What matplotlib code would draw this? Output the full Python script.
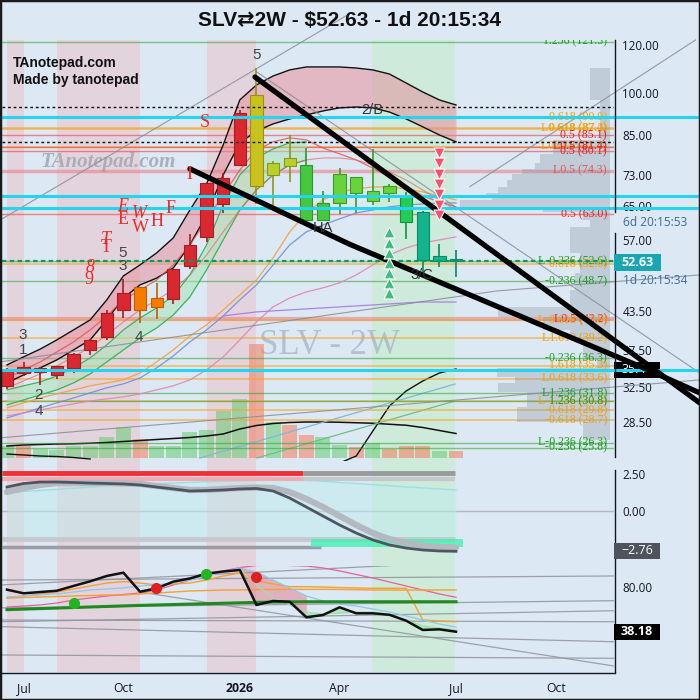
import numpy as np
import matplotlib
matplotlib.use("Agg")
import matplotlib.pyplot as plt
from matplotlib.patches import Rectangle
from matplotlib.lines import Line2D
from matplotlib.ticker import NullLocator, NullFormatter

plt.rcParams['font.family'] = ['Open Sans', 'DejaVu Sans']

# ---------------- data: 2-week candles (index 0 = first bar shown) ----------------
bars = np.arange(28)
opens  = [32.6, 34.35, 35.0, 34.05, 34.93, 37.45, 39.3, 43.73, 47.56, 44.07, 45.6, 51.7, 57.6, 65.4,
          75.9, 99.2, 73.0, 75.7, 76.0, 61.5, 65.6, 72.4, 66.1, 68.1, 67.4, 63.5, 52.6, 53.0]
closes = [34.7, 35.07, 34.4, 35.24, 36.97, 38.9, 43.2, 46.66, 43.73, 45.69, 51.0, 55.9, 70.8, 72.2,
          92.7, 70.0, 76.4, 78.1, 61.5, 65.6, 73.3, 68.1, 68.8, 70.0, 61.0, 52.9, 53.7, 52.63]
highs  = [35.0, 35.74, 35.1, 35.3, 37.0, 39.0, 43.73, 49.04, 47.6, 48.47, 51.1, 58.3, 71.0, 73.6,
          93.5, 109.8, 77.0, 85.1, 80.9, 68.8, 75.0, 72.5, 80.6, 70.5, 68.6, 63.6, 56.1, 54.9]
lows   = [32.3, 33.96, 32.8, 33.5, 34.35, 36.75, 38.9, 42.27, 41.5, 42.16, 44.6, 51.0, 56.6, 63.3,
          75.5, 65.4, 65.1, 71.2, 61.0, 61.2, 63.0, 63.2, 65.1, 65.8, 57.2, 50.5, 51.5, 49.5]
candle_kind = ['r', 'r', 'r', 'r', 'r', 'r', 'r', 'r', 'o', 'o', 'r', 'r', 'r', 'r',
               'r', 'y', 'yg', 'yg', 'g', 'g', 'lg', 'lg', 'lg', 'lg', 'bg', 't', 't', 't']

volume = [48, 50, 38, 32, 47, 47, 83, 123, 78, 50, 50, 103, 111, 187,
          235, 456, 143, 131, 91, 83, 54, 43, 59, 36, 47, 47, 30, 30]
vol_kind = ['g', 's', 'g', 'g', 'g', 'g', 'g', 'g', 's', 'g', 'g', 'g', 'g', 'g',
            'g', 's', 'g', 's', 's', 'g', 'g', 's', 'g', 's', 's', 's', 'g', 's']
vol_ma = [48, 52, 54, 56, 57, 59, 62, 66, 70, 74, 78, 82, 88, 96,
          116, 130, 138, 142, 144, 144, 143, 141, 139, 135, 131, 122, 110, 98]
vol_osc = [np.nan] * 20 + [-20, 8, 108, 208, 268, 308, 340, 356]
vol_osc2 = [16, 12, 8, 6, 2, -4] + [np.nan] * 22
vol_ray_a = ([11.6, 26.94], [0, 296])
vol_ray_b = ([15.03, 26.94], [0, 228])

# envelope / averages (price)
env_upper = [35.39, 36.5, 37.6, 38.94, 40.45, 42.02, 45.36, 49.7, 51.84, 54.27, 57.47, 63.94, 70.6, 81.94,
             97.29, 103.0, 106.6, 109.1, 110.35, 110.35, 110.35, 109.9, 109.1, 107.4, 103.8, 100.3, 97.29, 95.45]
env_lower = [33.05, 34.07, 35.0, 36.08, 37.48, 38.94, 42.02, 45.7, 48.03, 49.3, 51.25, 55.95, 62.73, 73.07,
             82.6, 86.4, 88.8, 90.5, 91.88, 93.3, 94.4, 94.7, 94.4, 92.9, 90.5, 87.8, 85.13, 82.9]
ribbon_hi = [32.18, 32.68, 33.17, 33.94, 35.0, 36.35, 38.2, 40.45, 42.34, 44.0, 46.05, 49.9, 55.95, 65.17,
             73.07, 77.97, 80.7, 82.6, 82.9]
ribbon_lo = [30.39, 30.97, 31.57, 32.18, 33.05, 34.2, 35.8, 37.48, 39.24, 40.76, 42.83, 45.9, 50.86, 57.03,
             63.94, 69.01, 73.07, 75.92, 77.38]
ma_orange = [30.04, 30.62, 31.2, 31.69, 32.18, 32.68, 33.05, 33.43, 34.33, 35.8, 37.48, 39.54, 41.23, 43.66,
             46.23, 48.95, 53.24, 58.8, 63.2, 66.43, 68.5, 69.3, 69.8, 69.8, 69.3, 68.5, 67.45, 66.43]
ma_blue = [28.92, 29.47, 30.04, 30.62, 31.2, 31.81, 32.43, 32.93, 33.68, 35.0, 36.63, 38.64, 40.45, 42.67,
           45.36, 48.03, 51.84, 55.95, 58.8, 60.39, 61.8, 63.2, 63.94, 64.7, 65.17, 65.4, 65.67, 65.67]
ma_pink = [29.14, 29.47, 29.81, 30.16, 30.5, 30.85, 31.09, 31.33, 31.69, 32.18, 32.68, 33.43, 34.73, 36.5,
           38.94, 41.7, 44.16, 45.7, 46.76, 47.5, 48.4, 49.9, 51.84, 53.85, 55.3, 56.4, 57.03, 57.7]
ma_purple = [np.nan] * 13 + [42.67, 43.0, 43.33, 43.5, 43.66, 43.83, 44.0, 44.16, 44.33, 44.5, 44.67,
                             44.85, 45.0, 45.0, 45.0]
ma_red_a = [33.68, 34.73, 35.8, 37.2, 38.64, 40.45, 42.67, 45.36, 47.12, 48.95, 51.84, 55.95, 61.55, 67.71,
            74.48, 80.39, 82.9, 84.2, 83.52, 81.0, 79.2, 77.38, 75.0, 72.5, 70.1, 67.45, 65.9, 64.7]
ma_red_b = [32.43, 33.3, 34.2, 35.26, 36.5, 37.9, 39.69, 41.7, 43.66, 45.36, 47.12, 49.9, 53.85, 58.8,
            63.94, 69.01, 73.07, 75.92, 77.38, 77.97, 77.97, 77.38, 75.92, 73.9, 71.69, 69.01, 66.43, 63.94]

# fibonacci levels
fib_prices = [121.5, 90.9, 87.4, 87.2, 85.1, 81.4, 81.4, 80.1, 74.3, 63.0, 52.6, 52.0, 48.7, 42.2, 42.0,
              39.2, 36.3, 35.3, 33.6, 31.8, 30.8, 30.8, 29.8, 28.7, 26.3, 25.8]
fib_labels = ['1.236 (121.5)', '0.618 (90.9)', 'L0.618 (87.4)', '0.618 (87.2)', '0.5 (85.1)',
              'L0.618 (81.4)', 'L0.5 (81.4)', '0.5 (80.1)', 'L0.5 (74.3)', '0.5 (63.0)',
              'L-0.236 (52.6)', '0.618 (52.0)', '-0.236 (48.7)', 'L0.5 (42.2)', 'L-0.618 (42.0)',
              'L1.618 (39.2)', '-0.236 (36.3)', '1.618 (35.3)', 'L0.618 (33.6)', 'L1.236 (31.8)',
              'L-1.236 (30.8)', '1.236 (30.8)', '-0.618 (29.8)', '-0.618 (28.7)', 'L-0.236 (26.3)',
              '-0.236 (25.8)']
fib_kind = ['g', 'o', 'o', 'o', 'r', 'o', 'r', 'r', 'p', 'r', 'g', 'o', 'g', 'R', 'o',
            'o', 'g', 'o', 'o', 'g', 'o', 'g', 'o', 'o', 'g', 'g']
cyan_levels = [91.3, 67.4, 64.5, 34.7]
dotted_levels = [94.6, 82.8]
last_price = 52.63

# volume profile (price edges, high -> low) and volume at price
vp_edges = [109.9, 97.3, 83.5, 79.2, 76.5, 74.8, 73.35, 71.7, 69.8, 68.2, 67.2, 66.4, 64.7, 63.45, 61.55,
            59.9, 54.3, 50.3, 47.1, 44.2, 42.5, 40.45, 38.9, 36.1, 35.0, 33.8, 33.05, 31.9, 30.2, 28.5, 26.6]
vp_volume = [20, 10, 57, 70, 75, 88, 98, 103, 112, 124, 118, 150, 67, 27, 20,
             40, 30, 35, 40, 112, 67, 40, 27, 13, 113, 95, 112, 83, 93, 27]

# drawn trend lines (bar index, price)
trend1 = ([14.91, 41.67], [106.2, 30.6])
trend2 = ([11.0, 20.6, 31.87, 38.06, 41.67], [74.8, 56.1, 41.5, 35.2, 31.8])
grey_lines = [([-0.42, 20.6], [61.5, 135.2]),
              ([15.03, 41.67], [108.2, 34.3]),
              ([27.84, 41.4], [69.9, 122.3]),
              ([-0.42, 29.46, 41.67], [35.8, 46.94, 49.9]),
              ([-0.42, 41.67], [26.8, 33.43])]

sell_marks = [79.5, 76.4, 73.4, 70.6, 67.9, 65.2, 62.7]   # at bar 26
buy_marks = [58.8, 56.4, 54.3, 52.2, 50.3, 48.4, 46.6]    # at bar 23

elliott = [('5', 15.0, 115.5), ('3', 0.96, 39.69), ('1', 0.96, 37.48), ('2', 1.92, 31.57),
           ('4', 1.92, 29.7), ('5', 6.98, 54.27), ('3', 6.98, 51.6), ('4', 7.94, 39.4)]
wave_tags = [('2/B', 21.95, 93.65), ('HA', 19.0, 59.7), ('3/C', 24.95, 49.9)]
red_letters = [('S', 11.9, 89.1, False), ('I', 10.94, 73.07, False), ('F', 9.86, 64.4, False),
               ('E', 6.98, 64.7, True), ('E', 6.98, 61.55, False), ('W', 7.94, 62.97, True),
               ('W', 8.0, 59.9, False), ('H', 9.02, 61.1, False), ('T', 5.95, 57.03, True),
               ('T', 5.95, 55.3, False), ('8', 4.99, 51.25, True), ('9', 4.9, 48.95, False)]

pink_bands = [(0, 1), (3, 8), (12, 15)]
green_bands = [(21.95, 26.95)]

# oscillator panel
osc = [1.61, 1.85, 1.95, 1.95, 1.92, 1.88, 1.85, 1.82, 1.75, 1.61, 1.48, 1.34, 1.37, 1.41,
       1.48, 1.51, 1.34, 0.86, 0.25, -0.36, -0.97, -1.52, -1.99, -2.33, -2.54, -2.67, -2.74, -2.76]
osc_sig = [1.27, 1.54, 1.75, 1.88, 1.88, 1.88, 1.88, 1.85, 1.82, 1.68, 1.54, 1.41, 1.41, 1.48,
           1.54, 1.58, 1.54, 1.27, 0.80, 0.25, -0.36, -0.97, -1.52, -1.93, -2.20, -2.37, -2.47, -2.50]
osc_base = [1.23, 1.30, 1.38, 1.45, 1.53, 1.60, 1.68, 1.75, 1.80, 1.84, 1.88, 1.92, 1.96, 2.00,
            2.03, 2.06, 2.09, 2.09, 2.06, 2.00, 1.92, 1.85, 1.78, 1.70, 1.62, 1.55, 1.48, 1.41]
ob_level, ob2_level, os_level, os2_level = 2.55, 2.15, -1.95, -2.47

# RSI panel
rsi = [77.5, 74.1, 75.3, 76.5, 81.0, 85.3, 90.3, 93.4, 75.6, 78.8, 85.0, 88.0, 92.5, 94.5,
       95.9, 63.2, 66.9, 66.2, 51.7, 53.8, 61.0, 55.4, 55.4, 54.0, 48.5, 39.8, 40.4, 38.18]
rsi_ma = [70.6, 71.6, 72.5, 73.5, 75.3, 77.2, 78.1, 79.1, 80.9, 81.9, 83.7, 86.5, 90.3, 94.0,
          97.8, 94.0, 86.5, 79.1, 71.6, 66.9, 64.1, 62.2, 59.4, 56.6, 52.9, 49.1, 45.4, 42.5]
rsi_fast = [np.nan] * 14 + [96.8, 81.9, 69.7, 63.2, 56.6, 54.7, 55.7, 56.6, 56.6, 53.8, 49.1, 43.5, 41.6, 39.8]
rsi_or1 = [69.7, 71.6, 73.5, 75.3, 78.1, 80.9, 83.7, 85.0, 83.7, 81.9, 82.8, 83.7, 86.5, 90.3,
           93.1, 85.9, 82.8, 80.3, 80.3, 80.0, 79.5, 79.1, 78.8, 78.8, 78.8, 49.1, 48.2, 47.5]
rsi_or2 = [69.7, 70.2, 70.6, 71.1, 71.6, 72.0, 72.5, 72.5, 73.5, 74.4, 75.3, 76.3, 76.7, 77.2,
           77.2, 77.5, 77.7, 77.8, 77.8, 77.8, 77.7, 77.5, 77.2, 77.2, 77.2, 77.2, 77.2, 77.2]
rsi_pink = [61.3, 62.2, 63.2, 65.0, 67.8, 69.7, 71.6, 73.0, 74.4, 77.2, 81.9, 86.5, 90.3, 95.0,
            98.2, 100.1, 100.6, 100.1, 99.6, 97.8, 95.0, 91.7, 88.4, 84.7, 80.9, 77.2, 73.5, 70.4]
rsi_base = [58.8, 59.3, 59.8, 60.3, 60.8, 61.3, 61.8, 62.3, 62.8, 63.2, 63.6, 64.0, 64.4, 64.8,
            65.2, 65.6, 65.9, 66.1, 66.2, 66.2, 66.2, 66.2, 66.2, 66.2, 66.2, 66.2, 66.2, 66.2]
rsi_dots = [(4.03, 64.75, 'g'), (8.96, 78.8, 'r'), (11.97, 92.2, 'g'), (14.97, 89.1, 'r')]
rsi_grey = [([-0.42, 23.75], [81.9, 100.6]), ([-0.42, 36.5], [86.5, 90.3]),
            ([-0.42, 36.5], [60.5, 67.2]), ([-0.42, 36.5], [47.5, 57.8]),
            ([-0.42, 36.5], [42.9, 28.8]), ([-0.42, 36.5], [16.4, 13.3]),
            ([7.88, 36.5], [75.6, 6.1]), ([-0.42, 36.5], [49.1, 47.5])]

price_ticks = [120, 100, 85, 73, 65, 57, 43.5, 37.5, 32.5, 28.5]
month_pos = [1, 7, 14, 20, 27, 33]
month_lab = ['Jul', 'Oct', '2026', 'Apr', 'Jul', 'Oct']

# ---------------- figure ----------------
W = H = 700
BG = '#dce8f3'
fig = plt.figure(figsize=(7, 7), dpi=100)
fig.patch.set_facecolor(BG)


def fx(px):
    return px / W


def fy(py):
    return 1 - py / H


def rect(x0, y0, x1, y1):
    return [fx(x0), fy(y1), fx(x1) - fx(x0), fy(y0) - fy(y1)]


XLIM = (-0.30, 36.50)
main_r = rect(2, 40, 614, 461)
axv = fig.add_axes(main_r)
ax = fig.add_axes(main_r)
ax2 = fig.add_axes(rect(2, 461, 614, 566))
ax3 = fig.add_axes(rect(2, 566, 614, 672))

for a in (axv, ax, ax2, ax3):
    for s in a.spines.values():
        s.set_visible(False)
    a.set_xlim(*XLIM)
    a.set_xticks([])
    a.tick_params(axis='both', length=0, labelsize=8.4, colors='#131722')
axv.set_facecolor(BG)
ax.set_facecolor('none')
ax2.set_facecolor(BG)
ax3.set_facecolor(BG)
axv.set_yticks([])

# background bands
for a in (axv, ax2, ax3):
    for s, e in pink_bands:
        a.axvspan(s, e, color='#e3d3dd', lw=0, zorder=0)
    for s, e in green_bands:
        a.axvspan(s, e, color='#cdeadb', lw=0, zorder=0)

# ---------- volume layer ----------
axv.set_ylim(-12, 1672)
vcol = {'g': (0.36, 0.80, 0.40, 0.5), 's': (0.95, 0.52, 0.40, 0.6)}
axv.bar(bars, volume, width=0.9, color=[vcol[k] for k in vol_kind], lw=0, zorder=2)
axv.plot(bars, vol_ma, color='#111111', lw=1.1, zorder=3)
axv.plot(bars, vol_osc, color='#111111', lw=1.0, zorder=3)
axv.plot(bars, vol_osc2, color='#111111', lw=1.0, zorder=3)
axv.plot(*vol_ray_a, color='#7fb8e0', lw=0.9, zorder=3)
axv.plot(*vol_ray_b, color='#6cc08a', lw=0.9, zorder=3)
axv.text(fx(329), fy(346), 'SLV - 2W', transform=fig.transFigure, ha='center', va='center',
         fontsize=25, family=['Liberation Serif', 'DejaVu Serif'], color='#aab6c6', alpha=0.8, zorder=1)
axv.text(fx(108), fy(162), 'TAnotepad.com', transform=fig.transFigure, ha='center', va='center',
         fontsize=15, style='italic', fontweight='bold', family=['Liberation Serif', 'DejaVu Serif'],
         color='#a3aab6', alpha=0.9, zorder=1)

# ---------- main price panel ----------
ax.set_yscale('log')
ax.set_ylim(24.53, 122.3)
ax.yaxis.tick_right()
ax.set_yticks(price_ticks)
ax.set_yticklabels([f'{v:.2f}' for v in price_ticks])
ax.yaxis.set_minor_locator(NullLocator())
ax.yaxis.set_minor_formatter(NullFormatter())
ax.tick_params(axis='y', pad=6)

fib_line = {'g': ('#2aa52a', 1.0, 0.55), 'o': ('#f5a623', 1.1, 0.7), 'r': ('#ee3030', 1.0, 0.55),
            'p': ('#e87a80', 2.5, 0.55), 'R': ('#e87a80', 3.0, 0.55)}
fib_text = {'g': '#1e9e1e', 'o': '#f5a000', 'r': '#ee1c1c', 'p': '#e05555', 'R': '#ee1c1c'}
for p, lab, k in zip(fib_prices, fib_labels, fib_kind):
    c, lw, al = fib_line[k]
    ax.axhline(p, color=c, lw=lw, alpha=al, zorder=1)
    ax.text(36.08, p, lab, ha='right', va='center', color=fib_text[k], fontsize=8.6,
            family=['Liberation Serif', 'DejaVu Serif'], zorder=4, clip_on=True)

# volume profile
vp_scale = 9.02 / max(vp_volume)
right_edge = 36.26
for k, v in enumerate(vp_volume):
    hi, lo = vp_edges[k], vp_edges[k + 1]
    w = v * vp_scale
    ax.barh(lo, w, left=right_edge - w, height=hi - lo, align='edge', color='#8a93a3',
            alpha=0.32, lw=0, zorder=2)

# envelopes / averages
ax.fill_between(bars, env_lower, env_upper, color='#e88a98', alpha=0.5, lw=0, zorder=2)
ax.plot(bars, env_upper, color='#111111', lw=1.0, zorder=3)
ax.plot(bars, env_lower, color='#111111', lw=1.0, zorder=3)
gb = bars[:len(ribbon_hi)]
ax.fill_between(gb, ribbon_lo, ribbon_hi, color='#a6e3b4', alpha=0.5, lw=0, zorder=2)
ax.plot(gb, ribbon_hi, color='#3cb35a', lw=0.9, zorder=3)
ax.plot(gb, ribbon_lo, color='#3cb35a', lw=0.9, zorder=3)
ax.plot(bars, ma_orange, color='#f0a040', lw=0.9, alpha=0.9, zorder=3)
ax.plot(bars, ma_blue, color='#6d8fe0', lw=0.9, alpha=0.9, zorder=3)
ax.plot(bars, ma_pink, color='#df86b6', lw=0.9, alpha=0.9, zorder=3)
ax.plot(bars, ma_purple, color='#a57ae0', lw=0.9, alpha=0.9, zorder=3)
ax.plot(bars, ma_red_a, color='#e05050', lw=0.9, alpha=0.8, zorder=3)
ax.plot(bars, ma_red_b, color='#e06a6a', lw=0.8, alpha=0.7, zorder=3)

for xs, ps in grey_lines:
    ax.plot(xs, ps, color='#878c95', lw=0.8, alpha=0.85, zorder=3, clip_on=False)

# candles
ccol = {'r': ('#d9282f', '#a51c22'), 'o': ('#f57c00', '#bf5e00'), 'y': ('#c9c21c', '#979210'),
        'yg': ('#b9cf2c', '#869a18'), 'g': ('#45c83f', '#2b982b'), 'lg': ('#68d43c', '#3b9c22'),
        'bg': ('#25cc55', '#10953a'), 't': ('#12b48c', '#0a866a')}
for i, (o, h, l, c, k) in enumerate(zip(opens, highs, lows, closes, candle_kind)):
    fc, ec = ccol[k]
    ax.vlines(i, l, h, color=ec, lw=1.2, zorder=5)
    lo_b, hi_b = min(o, c), max(o, c)
    ax.add_patch(Rectangle((i - 0.37, lo_b), 0.74, hi_b - lo_b, fc=fc, ec=ec, lw=0.8, zorder=6))

# trend lines
ax.plot(*trend1, color='black', lw=3.8, zorder=8, clip_on=False, solid_capstyle='round')
ax.plot(*trend2, color='black', lw=3.8, zorder=8, clip_on=False, solid_capstyle='round')

for p in dotted_levels:
    ax.axhline(p, color='#111111', lw=1.0, ls=(0, (2, 2)), zorder=7)
ax.axhline(last_price, color='#0c9a62', lw=1.6, ls=(0, (2, 1.5)), zorder=7)
for p in cyan_levels:
    ax.plot([XLIM[0], 41.67], [p, p], color='#25d5f0', lw=2.2, zorder=7, clip_on=False)

ax.scatter([26] * len(sell_marks), sell_marks, marker='v', s=62, color='#ff4f6e',
           edgecolors='white', linewidths=0.8, zorder=9)
ax.scatter([23] * len(buy_marks), buy_marks, marker='^', s=62, color='#3fbf7f',
           edgecolors='white', linewidths=0.8, zorder=9)

for s, xi, p in elliott:
    ax.text(xi, p, s, ha='center', va='center', fontsize=11, color='#444444',
            family=['Liberation Sans', 'DejaVu Sans'], zorder=10)
for s, xi, p in wave_tags:
    ax.text(xi, p, s, ha='center', va='center', fontsize=10.5, color='#333333',
            family=['Liberation Sans', 'DejaVu Sans'], zorder=10)
for s, xi, p, it in red_letters:
    ax.text(xi, p, s, ha='center', va='center', fontsize=13, color='#f02828',
            style='italic' if it else 'normal', family=['Liberation Serif', 'DejaVu Serif'], zorder=10)

# ---------- oscillator panel ----------
ax2.set_ylim(-3.76, 3.38)
ax2.yaxis.tick_right()
ax2.set_yticks([2.5, 0.0])
ax2.set_yticklabels(['2.50', '0.00'])
ax2.tick_params(axis='y', pad=6)
ax2.axhline(0, color='#b4b9c1', lw=1.0, zorder=1)
ax2.fill_between(bars, osc_base, os_level, color='#bdeef0', alpha=0.45, lw=0, zorder=1)
ax2.plot(bars, osc_base, color='#98e2e2', lw=1.0, zorder=2)
ax2.plot([XLIM[0], 17.8], [ob_level] * 2, color='#f03038', lw=3.5, solid_capstyle='butt', zorder=2)
ax2.plot([17.8, 26.95], [ob_level] * 2, color='#9a9a9a', lw=3.5, solid_capstyle='butt', zorder=2)
ax2.plot([XLIM[0], 17.8], [ob2_level] * 2, color='#f2aab2', lw=3.0, solid_capstyle='butt', zorder=2)
ax2.plot([17.8, 26.95], [ob2_level] * 2, color='#c4c8cc', lw=3.0, solid_capstyle='butt', zorder=2)
ax2.plot([XLIM[0], 26.95], [os_level] * 2, color='#c6cad0', lw=3.5, solid_capstyle='butt', zorder=2)
ax2.plot([XLIM[0], 18.9], [os2_level] * 2, color='#9a9da3', lw=2.5, solid_capstyle='butt', zorder=2)
ax2.fill_between([18.3, 27.4], os_level + 0.06, os2_level - 0.01, color='#3df2b0', alpha=0.75,
                 lw=0, zorder=2, clip_on=False)
ax2.plot(bars, osc_sig, color='#b3b8c1', lw=4.5, solid_capstyle='round', zorder=3)
ax2.plot(bars, osc, color='#4f5560', lw=2.0, zorder=4)

# ---------- RSI panel ----------
ax3.set_ylim(0.49, 99.64)
ax3.yaxis.tick_right()
ax3.set_yticks([80])
ax3.set_yticklabels(['80.00'])
ax3.tick_params(axis='y', pad=6)
for xs, vs in rsi_grey:
    ax3.plot(xs, vs, color='#8f949c', lw=0.9, alpha=0.85, zorder=1)
ax3.fill_between(bars[14:19], rsi_ma[14:19], rsi[14:19], color='#e57a8c', alpha=0.5, lw=0, zorder=2)
ax3.fill_between(bars[18:], rsi[18:], rsi_fast[18:], color='#7ae88a', alpha=0.45, lw=0, zorder=2)
ax3.plot(bars, rsi_pink, color='#e8609a', lw=0.9, zorder=3)
ax3.plot(bars, rsi_or1, color='#f5a030', lw=1.0, zorder=3)
ax3.plot(bars, rsi_or2, color='#f5a030', lw=1.0, zorder=3)
ax3.plot(bars, rsi_ma, color='#8cc8ee', lw=0.9, zorder=3)
ax3.plot(bars, rsi_fast, color='#9ee0a8', lw=0.9, zorder=3)
ax3.plot(bars, rsi_base, color='#1f8a1f', lw=2.2, zorder=4)
ax3.plot(bars, rsi, color='#111111', lw=1.8, zorder=5)
for xi, v, k in rsi_dots:
    ax3.plot(xi, v, 'o', ms=7, color='#22b522' if k == 'g' else '#e02020', zorder=6)
ax3.set_xticks(month_pos)
ax3.set_xticklabels(month_lab)
ax3.tick_params(axis='x', pad=7, labelsize=8.8)
for t in ax3.get_xticklabels():
    if t.get_text() == '2026':
        t.set_fontweight('bold')

# ---------- frame / axes lines / labels ----------
for y0, y1 in [(40, 212), (233, 457), (470, 672)]:
    fig.add_artist(Line2D([fx(614.5)] * 2, [fy(y0), fy(y1)], color='#131722', lw=1.0))
fig.add_artist(Line2D([fx(0), fx(614.5)], [fy(672.5)] * 2, color='#131722', lw=1.0))


def box(x0, x1, yc, h, fc, text, z=20, bold=False):
    fig.add_artist(Rectangle((fx(x0), fy(yc + h / 2)), (x1 - x0) / W, h / H,
                             transform=fig.transFigure, fc=fc, ec='none', zorder=z))
    fig.text(fx((x0 + x1) / 2), fy(yc), text, ha='center', va='center', color='white',
             fontsize=9, fontweight='bold' if bold else 'normal', zorder=z + 0.5)


box(614, 661, 262.5, 17, '#19a6b4', f'{last_price:.2f}', bold=True)
box(614, 660, 369.5, 16, '#000000', '35.41', z=-1)
box(614, 660, 551, 16, '#4e535d', '\u22122.76')
box(614, 660, 631.5, 16, '#000000', f'{rsi[-1]:.2f}', bold=True)
fig.text(fx(623), fy(222.5), '6d 20:15:53', ha='left', va='center', color='#3a6d9c', fontsize=8.6)
fig.text(fx(623), fy(280.5), '1d 20:15:34', ha='left', va='center', color='#3a6d9c', fontsize=8.6)

fig.text(0.5, fy(20), 'SLV\u21c42W - $52.63 - 1d 20:15:34', ha='center', va='center', fontsize=15,
         fontweight='bold', family=['Liberation Sans Narrow', 'Liberation Sans', 'DejaVu Sans'],
         color='#111111')
fig.text(fx(13), fy(62.5), 'TAnotepad.com', ha='left', va='center', fontsize=10, fontweight='bold',
         family=['Liberation Sans', 'DejaVu Sans'], color='#111111')
fig.text(fx(13), fy(80), 'Made by tanotepad', ha='left', va='center', fontsize=10, fontweight='bold',
         family=['Liberation Sans', 'DejaVu Sans'], color='#111111')

fig.add_artist(Rectangle((0, 0), 1, 1, transform=fig.transFigure, fill=False, ec='#1a1a1a', lw=2.5))

fig.savefig('out.png', dpi=100, facecolor=BG)
